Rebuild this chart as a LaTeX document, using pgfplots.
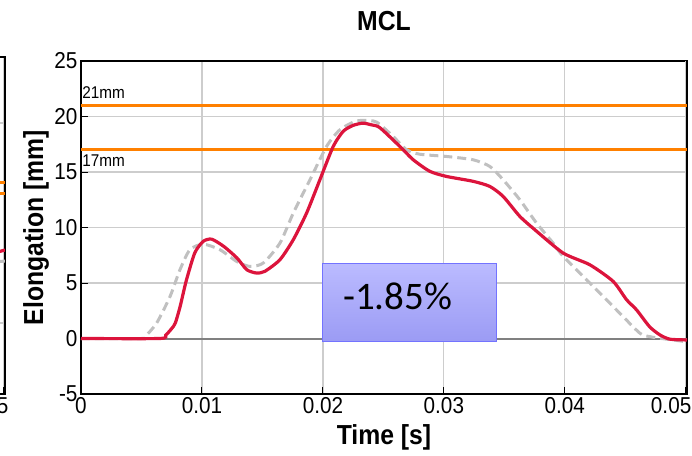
\documentclass[border=0pt]{standalone}
\usepackage{fontspec}
\setmainfont{Liberation Sans}[FakeStretch=0.9]
\newfontfamily\boxfont{Carlito}
\usepackage{pgfplots}
\pgfplotsset{compat=1.18}

\definecolor{mclred}{HTML}{DC143C}
\definecolor{refgray}{HTML}{C0C0C0}
\definecolor{thresh}{HTML}{FF8000}
\definecolor{gridgray}{HTML}{CDCDCD}
\definecolor{zerogray}{HTML}{808080}
\definecolor{boxtop}{HTML}{BBBBFF}
\definecolor{boxbot}{HTML}{9B9BF4}
\definecolor{boxedge}{HTML}{7373FF}

\pgfplotsset{
  mclstyle/.style={
    scale only axis,
    xmin=0, xmax=0.0501,
    tick align=inside,
    tick pos=left,
    major tick length=7bp,
    grid=major,
    major grid style={gridgray, line width=1.2bp},
    axis line style={black, line width=1.1bp},
    every tick/.style={black, line width=1bp},
    ticklabel style={font=\fontsize{23bp}{27bp}\selectfont},
    scaled x ticks=false,
  },
}

\begin{document}
\begin{tikzpicture}

% neighbouring panel, cut off at the left edge of the figure
\begin{axis}[
    mclstyle,
    at={(-76bp,0)}, anchor=south east,
    width=606bp, height=337bp,
    ymin=-3.55, ymax=13.3,
    ytick={0,10}, yticklabels={},
    xtick={0.05}, xticklabels={0.05},
    xticklabel style={anchor=north east, xshift=8bp},
]
\addplot[thresh, line width=3bp] coordinates {(0,7.02) (0.0501,7.02)};
\addplot[thresh, line width=3bp] coordinates {(0,6.47) (0.0501,6.47)};
\addplot[refgray, line width=3bp, dash pattern=on 9bp off 5bp] coordinates {(0.0485,3.0) (0.0501,3.1)};
\addplot[mclred, line width=3.2bp] coordinates {(0.0480,3.3) (0.0501,3.65)};
\end{axis}

\begin{axis}[
    mclstyle,
    at={(0,0)}, anchor=south west,
    width=606bp, height=333bp,
    ymin=-5, ymax=25,
    ytick={-5,0,5,10,15,20,25},
    yticklabels={-5,0,5,10,15,20,25},
    xtick={0,0.01,0.02,0.03,0.04},
    xticklabels={0,0.01,0.02,0.03,0.04},
    extra x ticks={0.05},
    extra x tick labels={0.05},
    extra x tick style={xticklabel style={anchor=north east, xshift=9bp}},
    title={MCL},
    title style={font=\bfseries\fontsize{27.5bp}{32bp}\selectfont,
      at={(axis description cs:0.5,1)}, anchor=base, yshift=24.5bp},
    xlabel={Time [s]},
    xlabel style={font=\bfseries\fontsize{27.5bp}{32bp}\selectfont,
      at={(axis description cs:0.5,0)}, anchor=center, yshift=-43bp},
    ylabel={Elongation [mm]},
    ylabel style={font=\bfseries\fontsize{27.5bp}{32bp}\selectfont,
      at={(axis description cs:0,0.5)}, anchor=center, yshift=45bp},
]
% zero line and thresholds
\addplot[zerogray, line width=2bp] coordinates {(0,0) (0.0501,0)};
\addplot[thresh, line width=3bp] coordinates {(0,21) (0.0501,21)};
\addplot[thresh, line width=3bp] coordinates {(0,17) (0.0501,17)};

% reference curve (dashed gray)
\addplot[refgray, line width=3bp, dash pattern=on 9bp off 5bp, smooth, tension=0.4] coordinates {
 (0,0) (0.0050,0) (0.0053,0.17) (0.00625,1.38) (0.00736,3.78) (0.00818,6.19)
 (0.0090,8.0) (0.0101,8.5) (0.01149,8.0) (0.01287,6.94) (0.01397,6.49)
 (0.01507,6.8) (0.01645,8.6) (0.01755,11.3) (0.01893,14.3) (0.0203,17.3)
 (0.0214,18.8) (0.02278,19.6) (0.02416,19.6) (0.0247,19.3) (0.02581,18.2)
 (0.02692,17.0) (0.02802,16.6) (0.03022,16.4) (0.03242,16.1) (0.0338,15.5)
 (0.0349,14.3) (0.03628,12.5) (0.03766,10.4) (0.03903,8.6) (0.03986,7.4)
 (0.04207,5.0) (0.04427,2.58) (0.0462,0.48) (0.04702,0.17) (0.0480,0)
 (0.0501,-0.3)
};

% measured curve (red)
\addplot[mclred, line width=3.2bp, smooth, tension=0.4] coordinates {
 (0,0) (0.0065,0) (0.0070,0.3) (0.0075,0.9) (0.0078,1.4) (0.0082,2.9)
 (0.0087,5.2) (0.0094,7.7) (0.0101,8.75) (0.0108,8.95) (0.0118,8.3)
 (0.0129,7.25) (0.0137,6.2) (0.0145,5.9) (0.0152,6.05) (0.01645,7.1)
 (0.01755,8.9) (0.01865,11.3) (0.01975,14.3) (0.02085,17.3) (0.02168,18.67)
 (0.0225,19.2) (0.0233,19.4) (0.0240,19.25) (0.0247,19.0) (0.02636,17.3)
 (0.02747,16.1) (0.02884,15.06) (0.03022,14.6) (0.03242,14.16) (0.0338,13.7)
 (0.0349,12.8) (0.03628,11.0) (0.03752,9.8) (0.03986,7.7) (0.04207,6.64)
 (0.0440,5.14) (0.0451,3.5) (0.04593,2.58) (0.0470,1.07) (0.04785,0.33)
 (0.04868,-0.06) (0.0501,-0.13)
};

\node[anchor=base west, inner sep=0pt, font=\fontsize{17bp}{20bp}\selectfont]
  at (axis cs:0.0001,21.62) {21mm};
\node[anchor=base west, inner sep=0pt, font=\fontsize{17bp}{20bp}\selectfont]
  at (axis cs:0.0001,15.49) {17mm};

% annotation box
\shade[top color=boxtop, bottom color=boxbot, draw=boxedge, line width=1bp]
  (axis cs:0.0200,-0.3) rectangle (axis cs:0.03438,6.76);
\node[anchor=base west, inner sep=0pt, font=\boxfont\fontsize{39bp}{44bp}\selectfont]
  at (axis cs:0.02165,2.58) {-1.85\%};
\end{axis}

\pgfresetboundingbox
\useasboundingbox (-81bp,-62bp) rectangle (611bp,394bp);
\end{tikzpicture}
\end{document}
